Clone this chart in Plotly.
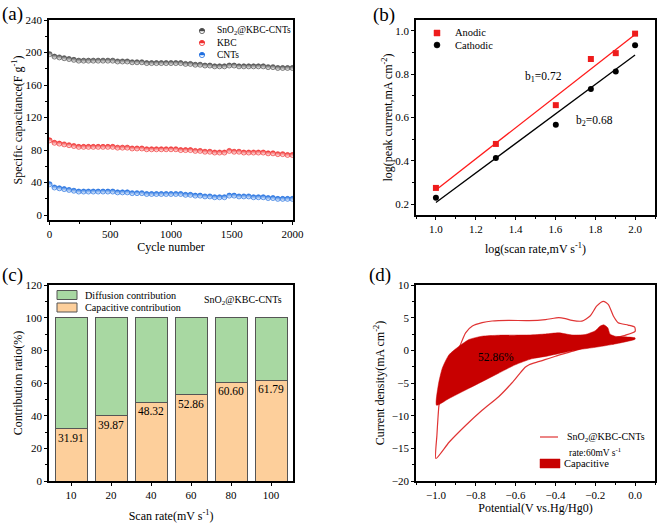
import numpy as np
import plotly.graph_objects as go

FONT = "Liberation Serif, Times New Roman, serif"
W, H = 661, 525

# ---------------- (a) cycling data ----------------
cycle_number = [0, 40, 80, 120, 160, 200, 240, 280, 320, 360, 400, 440, 480, 520, 560, 600, 640,
                680, 720, 760, 800, 840, 880, 920, 960, 1000, 1040, 1080, 1120, 1160, 1200, 1240,
                1280, 1320, 1360, 1400, 1440, 1480, 1520, 1560, 1600, 1640, 1680, 1720, 1760, 1800,
                1840, 1880, 1920, 1960, 2000]
cap_sno2 = [198, 195, 194, 193, 192, 191, 190, 190, 190, 190, 190, 190, 190, 190, 189, 189, 189,
            188, 188, 188, 187, 187, 187, 187, 187, 187, 187, 187, 186, 186, 185, 185,
            184, 184, 183, 183, 183, 184, 184, 183, 183, 183, 183, 183, 183, 182,
            182, 181, 181, 181, 181]
cap_kbc = [92, 89, 88, 87, 86, 85, 84, 84, 84, 84, 84, 84, 84, 84, 83, 83, 83,
           82, 82, 82, 81, 81, 81, 81, 81, 81, 81, 80, 80, 80, 79, 79,
           78, 78, 77, 77, 77, 79, 78, 78, 77, 77, 77, 77, 77, 76,
           76, 75, 75, 74, 74]
cap_cnts = [38, 34, 33, 32, 31, 30, 29, 29, 29, 29, 29, 29, 29, 29, 28, 28, 28,
            27, 27, 27, 26, 26, 26, 26, 26, 26, 26, 26, 25, 25, 24, 24,
            23, 23, 22, 22, 22, 24, 24, 23, 23, 23, 22, 22, 22, 21,
            21, 20, 20, 20, 20]

# ---------------- (b) b-value data ----------------
log_scan_rate = [1.0, 1.301, 1.602, 1.778, 1.903, 2.0]
log_anodic = [0.275, 0.478, 0.657, 0.870, 0.897, 0.987]
log_cathodic = [0.230, 0.413, 0.567, 0.732, 0.812, 0.933]

# ---------------- (c) contribution data ----------------
scan_rates = ["10", "20", "40", "60", "80", "100"]
capacitive_pct = [31.91, 39.87, 48.32, 52.86, 60.60, 61.79]
diffusion_pct = [round(100 - v, 2) for v in capacitive_pct]

# ---------------- (d) CV data ----------------
cv_potential = [-1.0, -0.995, -0.99, -0.985, -0.97, -0.95, -0.92, -0.9, -0.884, -0.851, -0.817,
                -0.768, -0.718, -0.635, -0.532, -0.45, -0.383, -0.35, -0.317, -0.267, -0.226,
                -0.192, -0.159, -0.134, -0.109, -0.085, -0.035, -0.002, 0.0,
                -0.05, -0.1, -0.2, -0.3, -0.4, -0.48, -0.532, -0.552, -0.585, -0.619, -0.685,
                -0.768, -0.851, -0.934, -1.0]
cv_current = [-16.55, -13.0, -10.5, -8.5, -5.5, -3.2, -1.3, -0.4, 0.37, 2.68, 3.71,
              4.23, 4.49, 4.59, 4.55, 4.7, 5.0, 4.85, 4.59, 4.48, 5.25,
              6.8, 7.5, 7.0, 5.25, 4.23, 3.86, 3.55, 2.9,
              2.3, 1.9, 1.0, 0.0, -0.9, -1.7, -2.2, -2.6, -3.76, -5.0, -7.1,
              -9.17, -11.5, -14.07, -16.55]
capac_potential = [-0.997, -0.988, -0.968, -0.934, -0.884, -0.834, -0.768, -0.685, -0.532, -0.45,
                   -0.383, -0.317, -0.25, -0.2, -0.176, -0.157, -0.137, -0.126, -0.101, -0.051,
                   0.0, 0.0, -0.051, -0.117, -0.2, -0.284, -0.367, -0.45, -0.52, -0.602, -0.685,
                   -0.768, -0.851, -0.934, -0.997]
capac_current = [-8.4, -5.3, -2.73, -0.67, 0.62, 1.65, 2.16, 2.31, 2.35, 2.5,
                 2.68, 2.35, 2.42, 3.0, 3.7, 3.9, 3.45, 2.5, 2.16, 2.06,
                 1.9, 1.7, 1.29, 0.88, 0.46, 0.1, -0.4, -0.93, -1.3, -2.22, -3.5,
                 -4.8, -6.08, -7.37, -8.4]
capac_label = "52.86%"


def px_x(p):
    return p / W


def px_y(p):
    return 1 - p / H


fig = go.Figure()

# (a)
series_a = [("SnO<sub>2</sub>@KBC-CNTs", cap_sno2, "#4a4a4a"),
            ("KBC", cap_kbc, "#f03030"),
            ("CNTs", cap_cnts, "#1f6fe0")]
for name, vals, col in series_a:
    fig.add_trace(go.Scatter(
        x=cycle_number, y=vals, mode="markers", name=name, showlegend=False,
        marker=dict(symbol="circle", size=5, color=col,
                    line=dict(color=col, width=0.7),
                    gradient=dict(type="vertical", color="white")),
        xaxis="x", yaxis="y"))

# (b)
fx = [min(log_scan_rate), max(log_scan_rate)]
ka = np.polyfit(log_scan_rate, log_anodic, 1)
kc = np.polyfit(log_scan_rate, log_cathodic, 1)
fig.add_trace(go.Scatter(x=fx, y=np.polyval(ka, fx).tolist(), mode="lines",
                         line=dict(color="#ff1a1a", width=1.3), showlegend=False,
                         xaxis="x2", yaxis="y2"))
fig.add_trace(go.Scatter(x=fx, y=np.polyval(kc, fx).tolist(), mode="lines",
                         line=dict(color="black", width=1.3), showlegend=False,
                         xaxis="x2", yaxis="y2"))
fig.add_trace(go.Scatter(x=log_scan_rate, y=log_anodic, mode="markers", name="Anodic",
                         showlegend=False,
                         marker=dict(symbol="square", size=6, color="#ee1c1c"),
                         xaxis="x2", yaxis="y2"))
fig.add_trace(go.Scatter(x=log_scan_rate, y=log_cathodic, mode="markers", name="Cathodic",
                         showlegend=False,
                         marker=dict(symbol="circle", size=6, color="black"),
                         xaxis="x2", yaxis="y2"))

# (c)
GREEN, ORANGE, EDGE = "#a8d8a2", "#fdcf9b", "#555555"
fig.add_trace(go.Bar(x=scan_rates, y=capacitive_pct, name="Capacitive contribution",
                     showlegend=False, width=0.8,
                     marker=dict(color=ORANGE, line=dict(color=EDGE, width=1)),
                     text=[f"{v:.2f}" for v in capacitive_pct], textposition="inside",
                     insidetextanchor="end", constraintext="none", textangle=0,
                     textfont=dict(family=FONT, size=11.5, color="black"),
                     xaxis="x3", yaxis="y3"))
fig.add_trace(go.Bar(x=scan_rates, y=diffusion_pct, name="Diffusion contribution",
                     showlegend=False, width=0.8,
                     marker=dict(color=GREEN, line=dict(color=EDGE, width=1)),
                     xaxis="x3", yaxis="y3"))

# (d)
CV_LINE, CV_FILL = "#e03434", "#c80000"
fig.add_trace(go.Scatter(x=cv_potential, y=cv_current, mode="lines",
                         name="SnO<sub>2</sub>@KBC-CNTs", showlegend=False,
                         line=dict(color=CV_LINE, width=1.2, shape="spline", smoothing=0.6),
                         xaxis="x4", yaxis="y4"))
fig.add_trace(go.Scatter(x=capac_potential, y=capac_current, mode="lines", fill="toself",
                         name="Capacitive", showlegend=False,
                         fillcolor=CV_FILL, line=dict(color=CV_FILL, width=0.5,
                                                      shape="spline", smoothing=0.6),
                         xaxis="x4", yaxis="y4"))

axis_common = dict(showline=True, linecolor="black", linewidth=1.6, mirror=True,
                   ticks="outside", ticklen=3, tickwidth=1.2, tickcolor="black",
                   showgrid=False, zeroline=False, automargin=False,
                   tickfont=dict(family=FONT, size=11, color="black"),
                   title_font=dict(family=FONT, size=12, color="black"))
minor = dict(ticks="outside", ticklen=2, tickwidth=1, tickcolor="black", showgrid=False)

dom_xl = [px_x(49), px_x(293)]
dom_xr = [px_x(416), px_x(655)]

fig.update_layout(
    width=W, height=H, margin=dict(l=0, r=0, t=0, b=0, autoexpand=False),
    paper_bgcolor="white", plot_bgcolor="white",
    font=dict(family=FONT, size=11, color="black"),
    barmode="stack", showlegend=False,
    xaxis=dict(axis_common, domain=dom_xl, anchor="y", range=[-5, 2005], dtick=500,
               minor=dict(minor, dtick=250), title=dict(text="Cycle number", standoff=4)),
    yaxis=dict(axis_common, domain=[px_y(220), px_y(20)], anchor="x", range=[-6, 240],
               dtick=40, tick0=0, minor=dict(minor, dtick=20),
               title=dict(text="Specific capacitance(F g<sup>-1</sup>)", standoff=0)),
    xaxis2=dict(axis_common, domain=dom_xr, anchor="y2", range=[0.9, 2.1], dtick=0.2,
                tick0=1.0, tickformat=".1f", minor=dict(minor, dtick=0.1),
                title=dict(text="log(scan rate,mV s<sup>-1</sup>)", standoff=11)),
    yaxis2=dict(axis_common, domain=[px_y(215), px_y(20)], anchor="x2", range=[0.15, 1.05],
                dtick=0.2, tick0=0.2, tickformat=".1f", minor=dict(minor, dtick=0.1),
                title=dict(text="log(peak current,mA cm<sup>-2</sup>)", standoff=0)),
    xaxis3=dict(axis_common, domain=dom_xl, anchor="y3", type="category",
                range=[-0.55, 5.55],
                title=dict(text="Scan rate(mV s<sup>-1</sup>)", standoff=12)),
    yaxis3=dict(axis_common, domain=[px_y(481), px_y(285)], anchor="x3", range=[0, 120],
                dtick=20, minor=dict(minor, dtick=10),
                title=dict(text="Contribution ratio(%)", standoff=0)),
    xaxis4=dict(axis_common, domain=dom_xr, anchor="y4", range=[-1.1, 0.1], dtick=0.2,
                tick0=0, tickformat=".1f", minor=dict(minor, dtick=0.1),
                title=dict(text="Potential(V vs.Hg/Hg0)", standoff=4)),
    yaxis4=dict(axis_common, domain=[px_y(481), px_y(285)], anchor="x4", range=[-20, 10],
                dtick=5, minor=dict(minor, dtick=2.5),
                title=dict(text="Current density(mA cm<sup>-2</sup>)", standoff=5)),
)

# ---------- legend keys drawn as layout shapes (paper anchored, pixel sized) ----------
shapes = []


def key_shape(kind, xc, yc, dx, dy, line_col, fill_col, lw=1.0, path=None):
    s = dict(type=kind, xref="paper", yref="paper", xsizemode="pixel", ysizemode="pixel",
             xanchor=px_x(xc), yanchor=px_y(yc), line=dict(color=line_col, width=lw),
             fillcolor=fill_col)
    if path is not None:
        s["path"] = path
    else:
        s.update(x0=-dx, x1=dx, y0=-dy, y1=dy)
    return s


r = 2.6
for (name, vals, col), yc in zip(series_a, [31, 43, 55]):
    shapes.append(key_shape("circle", 202, yc, r, r, col, "white", 0.8))
    shapes.append(key_shape("path", 202, yc, 0, 0, col, col, 0.5,
                            path=f"M {-r},0 C {-r},{1.333 * r} {r},{1.333 * r} {r},0 Z"))
shapes.append(key_shape("rect", 437, 33, 3, 3, "#ee1c1c", "#ee1c1c", 0.5))
shapes.append(key_shape("circle", 437, 45, 3, 3, "black", "black", 0.5))
shapes.append(key_shape("rect", 67, 295, 10, 4.5, EDGE, GREEN, 1))
shapes.append(key_shape("rect", 67, 307.5, 10, 4.5, EDGE, ORANGE, 1))
shapes.append(dict(type="line", xref="paper", yref="paper", x0=px_x(540), x1=px_x(558),
                   y0=px_y(437), y1=px_y(437), line=dict(color=CV_LINE, width=1.2)))
shapes.append(key_shape("rect", 550, 463.5, 10, 4.5, CV_FILL, CV_FILL, 0.5))
fig.update_layout(shapes=shapes)

annots = [
    dict(text="(a)", x=px_x(0), y=px_y(14), xanchor="left", size=19),
    dict(text="(b)", x=px_x(384), y=px_y(15), xanchor="center", size=19),
    dict(text="(c)", x=px_x(0), y=px_y(275), xanchor="left", size=19),
    dict(text="(d)", x=px_x(380), y=px_y(275), xanchor="center", size=19),
    # legend texts
    dict(text="SnO<sub>2</sub>@KBC-CNTs", x=px_x(215), y=px_y(31), xanchor="left", size=9.5),
    dict(text="KBC", x=px_x(215), y=px_y(43), xanchor="left", size=9.5),
    dict(text="CNTs", x=px_x(215), y=px_y(55), xanchor="left", size=9.5),
    dict(text="Anodic", x=px_x(453), y=px_y(33), xanchor="left", size=10.5),
    dict(text="Cathodic", x=px_x(453), y=px_y(45), xanchor="left", size=10.5),
    dict(text="Diffusion contribution", x=px_x(83), y=px_y(295), xanchor="left", size=10.2),
    dict(text="Capacitive contribution", x=px_x(83), y=px_y(307.5), xanchor="left",
         size=10.2),
    dict(text="SnO<sub>2</sub>@KBC-CNTs", x=px_x(565), y=px_y(437), xanchor="left", size=10),
    dict(text="rate:60mV s<sup>-1</sup>", x=px_x(567), y=px_y(452), xanchor="left",
         size=9.5),
    dict(text="Capacitive", x=px_x(562), y=px_y(463.5), xanchor="left", size=10.5),
    # in-plot labels
    dict(text="b<sub>1</sub>=0.72", x=1.542, y=0.787, xref="x2", yref="y2", size=11.5),
    dict(text="b<sub>2</sub>=0.68", x=1.796, y=0.583, xref="x2", yref="y2", size=11.5),
    dict(text="SnO<sub>2</sub>@KBC-CNTs", x=px_x(243), y=px_y(300), size=10),
    dict(text=capac_label, x=-0.70, y=-1.0, xref="x4", yref="y4", size=11.5),
]
final_annots = []
for a in annots:
    sz = a.pop("size")
    a.setdefault("xref", "paper")
    a.setdefault("yref", "paper")
    a.setdefault("xanchor", "center")
    a["yanchor"] = "middle"
    a["showarrow"] = False
    a["font"] = dict(family=FONT, color="black", size=sz)
    final_annots.append(a)
fig.update_layout(annotations=final_annots)

fig.write_html("out.html", config={"displayModeBar": False},
               post_script="document.body.style.margin='0px';"
                           "document.body.style.overflow='hidden';")
